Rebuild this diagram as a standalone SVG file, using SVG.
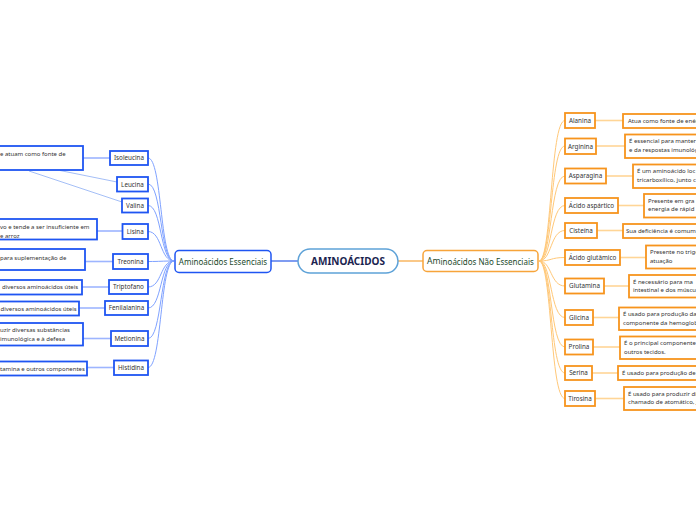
<svg xmlns="http://www.w3.org/2000/svg" width="696" height="520" viewBox="0 0 696 520">
<style>
text{font-family:"Noto Sans","Open Sans","DejaVu Sans",sans-serif;}
.bn{fill:#fff;stroke:#1f55f2;stroke-width:1.8;}
.on{fill:#fff;stroke:#f7941d;stroke-width:1.8;}
.t{font-size:6.3px;fill:#333;text-anchor:middle;}
.d{font-size:6px;fill:#333;}
.bc{fill:none;stroke:#7fa2ff;stroke-width:1;}
.bl{fill:none;stroke:#9db5ff;stroke-width:1.6;}
.oc{fill:none;stroke:#ffc878;stroke-width:1;}
.ol{fill:none;stroke:#ffd596;stroke-width:1.6;}
.rel{fill:none;stroke:#9ab7f5;stroke-width:0.9;}
</style>
<rect width="696" height="520" fill="#fff"/>
<g id="connectors">
<line x1="271" y1="261" x2="298" y2="261" stroke="#2a5be8" stroke-width="1.2"/>
<line x1="398" y1="261" x2="423" y2="261" stroke="#f7a43a" stroke-width="1.2"/>
<path class="bc" d="M148,158 C162,158 160,261 174,261"/>
<path class="bc" d="M148,184 C162,184 160,261 174,261"/>
<path class="bc" d="M148,205.5 C162,205.5 160,261 174,261"/>
<path class="bc" d="M148,231.5 C162,231.5 160,261 174,261"/>
<path class="bc" d="M148,261.5 C162,261.5 160,261 174,261"/>
<path class="bc" d="M148,287 C162,287 160,261 174,261"/>
<path class="bc" d="M148,308 C162,308 160,261 174,261"/>
<path class="bc" d="M148,338.5 C162,338.5 160,261 174,261"/>
<path class="bc" d="M148,367.5 C162,367.5 160,261 174,261"/>
<path class="oc" d="M539,261 C552,261 550,120.5 565,120.5"/>
<path class="oc" d="M539,261 C552,261 550,146 565,146"/>
<path class="oc" d="M539,261 C552,261 550,176 565,176"/>
<path class="oc" d="M539,261 C552,261 550,205.5 565,205.5"/>
<path class="oc" d="M539,261 C552,261 550,230.5 565,230.5"/>
<path class="oc" d="M539,261 C552,261 550,257.5 565,257.5"/>
<path class="oc" d="M539,261 C552,261 550,286 565,286"/>
<path class="oc" d="M539,261 C552,261 550,317.5 565,317.5"/>
<path class="oc" d="M539,261 C552,261 550,347 565,347"/>
<path class="oc" d="M539,261 C552,261 550,373 565,373"/>
<path class="oc" d="M539,261 C552,261 550,398.5 565,398.5"/>
<line class="bl" x1="83" y1="158" x2="110" y2="158"/>
<line class="bl" x1="97" y1="231" x2="122" y2="231"/>
<line class="bl" x1="85" y1="261.5" x2="113" y2="261.5"/>
<line class="bl" x1="82" y1="287" x2="109" y2="287"/>
<line class="bl" x1="79" y1="308" x2="105" y2="308"/>
<line class="bl" x1="83" y1="338.5" x2="111" y2="338.5"/>
<line class="bl" x1="87" y1="367.5" x2="114" y2="367.5"/>
<line class="rel" x1="60" y1="170.5" x2="117" y2="182"/>
<line class="rel" x1="29" y1="171" x2="122" y2="202"/>
<line class="ol" x1="595" y1="120.5" x2="623" y2="120.5"/>
<line class="ol" x1="596" y1="146" x2="625" y2="146"/>
<line class="ol" x1="606" y1="176" x2="633" y2="176"/>
<line class="ol" x1="618" y1="205.5" x2="644" y2="205.5"/>
<line class="ol" x1="597" y1="230.5" x2="623" y2="230.5"/>
<line class="ol" x1="620" y1="257.5" x2="646" y2="257.5"/>
<line class="ol" x1="604" y1="286" x2="629" y2="286"/>
<line class="ol" x1="593" y1="317.5" x2="619" y2="317.5"/>
<line class="ol" x1="593" y1="347" x2="620" y2="347"/>
<line class="ol" x1="592" y1="373" x2="618" y2="373"/>
<line class="ol" x1="595" y1="398.5" x2="624" y2="398.5"/>
</g>
<g id="root">
<rect x="298" y="249" width="100" height="24" rx="12" fill="#fff" stroke="#5ea2d8" stroke-width="1.5"/>
<text x="348" y="265" font-size="10" font-weight="bold" fill="#1b2450" text-anchor="middle">AMINOÁCIDOS</text>
</g>
<g id="essenciais">
<rect x="175" y="250.5" width="96" height="22" rx="4" fill="#fff" stroke="#1f55f2" stroke-width="1.5"/>
<text x="223" y="264.5" font-size="8" fill="#1d4a2c" text-anchor="middle">Aminoácidos Essenciais</text>
</g>
<g id="nao-essenciais">
<rect x="423" y="250.5" width="115" height="21" rx="4" fill="#fff" stroke="#f7a43a" stroke-width="1.5"/>
<text x="427" y="264.5" font-size="8" fill="#1d4a2c"><tspan font-size="8.6" dy="-1">Am</tspan><tspan dy="1">inoácidos Não Essenciais</tspan></text>
</g>
<g id="isoleucina"><rect class="bn" x="110" y="151" width="38" height="14"/><text class="t" x="129" y="160.3">Isoleucina</text></g>
<g id="leucina"><rect class="bn" x="117" y="177" width="31" height="14.5"/><text class="t" x="132.5" y="186.5">Leucina</text></g>
<g id="valina"><rect class="bn" x="122" y="198.5" width="26" height="14"/><text class="t" x="135" y="207.8">Valina</text></g>
<g id="lisina"><rect class="bn" x="122.5" y="224" width="25.5" height="15"/><text class="t" x="135.3" y="233.8">Lisina</text></g>
<g id="treonina"><rect class="bn" x="113" y="254" width="35" height="15"/><text class="t" x="130.5" y="263.8">Treonina</text></g>
<g id="triptofano"><rect class="bn" x="109" y="280" width="39" height="14"/><text class="t" x="128.5" y="289.3">Triptofano</text></g>
<g id="fenilalanina"><rect class="bn" x="105" y="301" width="43" height="14"/><text class="t" x="126.5" y="310.3">Fenilalanina</text></g>
<g id="metionina"><rect class="bn" x="111" y="331" width="37" height="15"/><text class="t" x="129.5" y="340.8">Metionina</text></g>
<g id="histidina"><rect class="bn" x="114" y="360.5" width="34" height="14.5"/><text class="t" x="131" y="370">Histidina</text></g>
<g id="isoleucina-desc"><rect class="bn" x="-5" y="146" width="88" height="24"/><text class="d" x="0" y="156">e atuam como fonte de</text></g>
<g id="lisina-desc"><rect class="bn" x="-5" y="219" width="102" height="20.5"/><text class="d" x="0" y="229.3">vo e tende a ser insuficiente em</text><text class="d" x="0" y="237.5">e arroz</text></g>
<g id="treonina-desc"><rect class="bn" x="-5" y="249" width="90" height="21"/><text class="d" x="0" y="259.5">para suplementação de</text></g>
<g id="triptofano-desc"><rect class="bn" x="-5" y="280" width="87" height="14.5"/><text class="d" x="2" y="289">diversos aminoácidos úteis</text></g>
<g id="fenilalanina-desc"><rect class="bn" x="-5" y="301.5" width="84" height="14"/><text class="d" x="0.5" y="310.5">diversos aminoácidos úteis</text></g>
<g id="metionina-desc"><rect class="bn" x="-5" y="323" width="88" height="22.5"/><text class="d" x="0" y="332">uzir diversas substâncias</text><text class="d" x="0" y="340.7">imunológica e à defesa</text></g>
<g id="histidina-desc"><rect class="bn" x="-5" y="361.5" width="92" height="14"/><text class="d" x="0" y="371">tamina e outros componentes</text></g>
<g id="alanina"><rect class="on" x="565" y="113" width="30" height="15"/><text class="t" x="580" y="122.8">Alanina</text></g>
<g id="arginina"><rect class="on" x="565" y="138.5" width="31" height="15.5"/><text class="t" x="580.5" y="148.5">Arginina</text></g>
<g id="asparagina"><rect class="on" x="565" y="168.5" width="41" height="15"/><text class="t" x="585.5" y="178.3">Asparagina</text></g>
<g id="acido-aspartico"><rect class="on" x="565" y="198" width="53" height="15"/><text class="t" x="591.5" y="207.8">Ácido aspártico</text></g>
<g id="cisteina"><rect class="on" x="565" y="223" width="32" height="15"/><text class="t" x="581" y="232.8">Cisteína</text></g>
<g id="acido-glutamico"><rect class="on" x="565" y="250" width="55" height="15"/><text class="t" x="592.5" y="259.8">Ácido glutâmico</text></g>
<g id="glutamina"><rect class="on" x="565" y="278.5" width="39" height="15"/><text class="t" x="584.5" y="288.3">Glutamina</text></g>
<g id="glicina"><rect class="on" x="565" y="310" width="28" height="15"/><text class="t" x="579" y="319.8">Glicina</text></g>
<g id="prolina"><rect class="on" x="565" y="339.5" width="28" height="15"/><text class="t" x="579" y="349.3">Prolina</text></g>
<g id="serina"><rect class="on" x="565" y="366" width="27" height="14"/><text class="t" x="578.5" y="375.3">Serina</text></g>
<g id="tirosina"><rect class="on" x="565" y="391" width="30" height="15"/><text class="t" x="580" y="400.8">Tirosina</text></g>
<g id="alanina-desc"><rect class="on" x="623" y="114" width="80" height="14"/><text class="d" x="628" y="123">Atua como fonte de enér</text></g>
<g id="arginina-desc"><rect class="on" x="625" y="134.5" width="80" height="23.5"/><text class="d" x="629" y="143">É essencial para manter</text><text class="d" x="629" y="151.5">e da respostas imunológ</text></g>
<g id="asparagina-desc"><rect class="on" x="633" y="164.5" width="70" height="23.5"/><text class="d" x="637" y="173">É um aminoácido loc</text><text class="d" x="637" y="181.5">tricarboxílico, junto c</text></g>
<g id="acido-aspartico-desc"><rect class="on" x="644" y="194" width="60" height="23.5"/><text class="d" x="648" y="202.5">Presente em gra</text><text class="d" x="648" y="211">energia de rápid</text></g>
<g id="cisteina-desc"><rect class="on" x="623" y="224" width="80" height="14"/><text class="d" x="626" y="233">Sua deficiência é comum</text></g>
<g id="acido-glutamico-desc"><rect class="on" x="646" y="245.5" width="60" height="23"/><text class="d" x="650" y="254">Presente no trigo</text><text class="d" x="650" y="262.5">atuação</text></g>
<g id="glutamina-desc"><rect class="on" x="629" y="275" width="75" height="22.5"/><text class="d" x="633" y="283.5">É necessário para ma</text><text class="d" x="633" y="292">intestinal e dos múscu</text></g>
<g id="glicina-desc"><rect class="on" x="619" y="307.5" width="85" height="22.5"/><text class="d" x="623" y="316">É usado para produção da</text><text class="d" x="623" y="324.5">componente da hemoglob</text></g>
<g id="prolina-desc"><rect class="on" x="620" y="336.5" width="85" height="22.5"/><text class="d" x="624" y="345">É o principal componente</text><text class="d" x="624" y="353.5">outros tecidos.</text></g>
<g id="serina-desc"><rect class="on" x="618" y="366" width="85" height="14"/><text class="d" x="622" y="375">É usado para produção de</text></g>
<g id="tirosina-desc"><rect class="on" x="624" y="387" width="80" height="23"/><text class="d" x="628" y="395.5">É usado para produzir di</text><text class="d" x="628" y="404">chamado de atomático, j</text></g>
</svg>
